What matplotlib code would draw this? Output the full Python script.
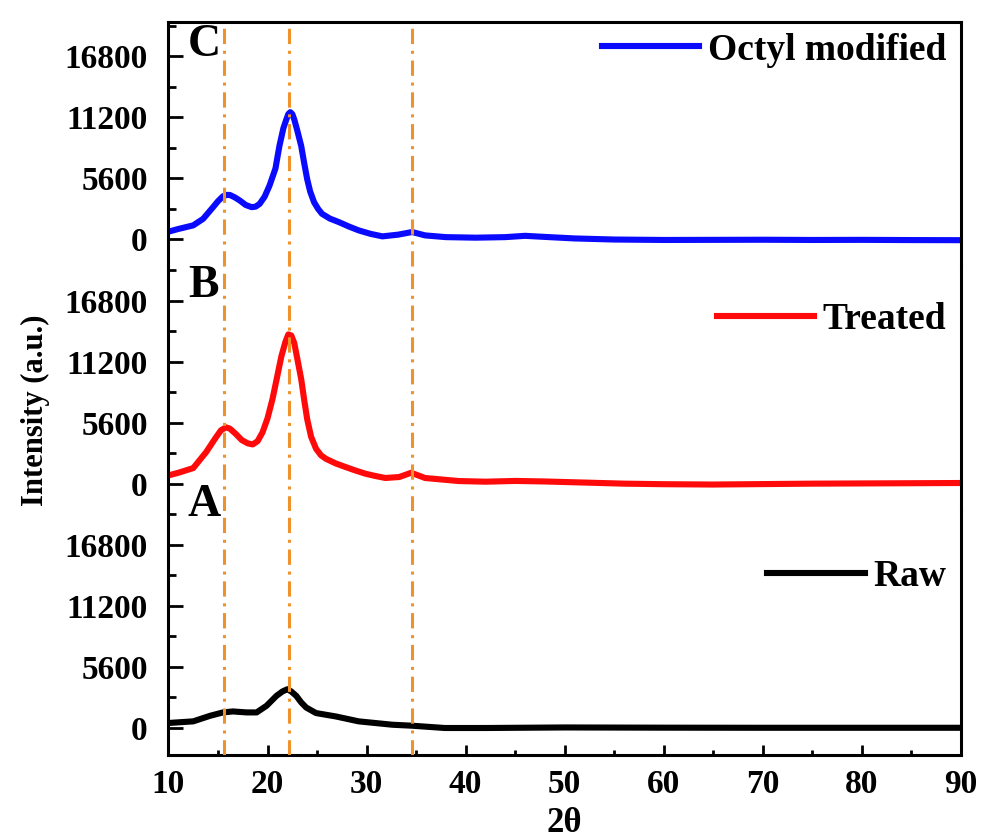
import matplotlib
matplotlib.use("Agg")
import matplotlib.pyplot as plt

# --- XRD patterns (2θ, intensity in counts) ---
octyl_x = [10, 11, 12.5, 13.5, 14.5, 15.0, 15.5, 15.9, 16.2, 16.7, 17.2, 17.8, 18.4, 18.8,
           19.2, 19.7, 20.2, 20.8, 21.2, 21.6, 21.9, 22.1, 22.3, 22.5, 22.7, 23.0, 23.4,
           23.7, 24.0, 24.3, 24.7, 25.1, 25.5, 26.3, 27.2, 28.2, 29.2, 30.4, 31.6, 33.2,
           34.6, 35.9, 38, 41, 44, 46, 48, 51, 55, 60, 65, 70, 75, 80, 85, 90]
octyl_y = [700, 950, 1280, 1880, 2950, 3500, 3950, 4080, 4070, 3850, 3560, 3150, 2950, 3000,
           3250, 3900, 4930, 6500, 8570, 10200, 11000, 11500, 11670, 11500, 11000, 10000, 8570,
           7000, 5530, 4400, 3400, 2800, 2340, 1900, 1580, 1180, 820, 500, 270, 430,
           670, 360, 200, 150, 200, 320, 220, 80, -20, -60, -50, -40, -60, -50, -70, -80]

treated_x = [10, 11, 12.5, 13.8, 14.8, 15.3, 15.8, 16.2, 16.8, 17.4, 18.0, 18.5, 19.0, 19.5,
             20.0, 20.5, 20.9, 21.4, 21.8, 22.1, 22.4, 22.7, 23.0, 23.4, 23.7, 24.0, 24.4,
             24.9, 25.4, 25.9, 26.9, 27.9, 28.9, 29.9, 30.9, 31.9, 33.3, 34.5, 35.9, 39.3,
             42, 45, 48, 52, 56, 60, 65, 70, 75, 80, 85, 90]
treated_y = [760, 1000, 1430, 2890, 4260, 4900, 5170, 5050, 4560, 4000, 3700, 3600, 3900, 4720,
             6000, 7760, 9500, 11700, 13000, 13700, 13600, 12900, 11500, 9590, 7700, 5930, 4300,
             3200, 2600, 2280, 1850, 1520, 1200, 910, 700, 520, 610, 1000, 520, 240,
             180, 250, 200, 100, 0, -50, -80, -40, 0, 20, 40, 60]

raw_x = [10, 12.5, 14.2, 15.5, 16.5, 17.9, 18.9, 19.9, 20.9, 21.5, 22.0, 22.4, 22.9, 23.4,
         23.9, 24.9, 26.9, 29.2, 32.6, 34.6, 37.9, 42, 50, 60, 70, 80, 90]
raw_y = [460, 610, 1120, 1430, 1520, 1430, 1430, 2040, 2950, 3350, 3560, 3350, 2950, 2350,
         1880, 1370, 1060, 610, 300, 210, 0, 0, 50, 30, 20, 20, 20]

series_names = ["Octyl modified", "Treated", "Raw"]
panel_labels = ["C", "B", "A"]
peak_positions = [15.6, 22.2, 34.6]

y_major = [0, 5600, 11200, 16800]
y_minor = [2800, 8400, 14000, 19600]
x_major = [10, 20, 30, 40, 50, 60, 70, 80, 90]
x_minor = [15, 25, 35, 45, 55, 65, 75, 85]

plt.rcParams["font.family"] = ["Liberation Serif", "DejaVu Serif"]
plt.rcParams["font.weight"] = "bold"

fig = plt.figure(figsize=(9.84, 8.39), dpi=100)
gs = fig.add_gridspec(3, 1, hspace=0, left=0.1712, right=0.9766,
                      bottom=0.1001, top=0.9738)
axes = [fig.add_subplot(gs[i]) for i in range(3)]

data = [(octyl_x, octyl_y, "#0a0aff"), (treated_x, treated_y, "#ff0a0a"),
        (raw_x, raw_y, "#000000")]
legend_y = [0.885, 0.781, 0.729]
letter_pos = [(188, 56), (188, 297), (188, 516)]

for i, ax in enumerate(axes):
    xs, ys, col = data[i]
    ln, = ax.plot(xs, ys, color=col, lw=4.4, solid_joinstyle="round", zorder=2)
    for p in peak_positions:
        ax.axvline(p, color="#f0922b", lw=2.2, ls=(0, (5, 2.2, 1, 2.2)), zorder=3)
    ax.set_xlim(10, 90)
    ax.set_ylim(-2480, 19950)
    ax.set_yticks(y_major)
    ax.set_yticks(y_minor, minor=True)
    ax.set_xticks(x_major)
    ax.set_xticks(x_minor, minor=True)
    ax.tick_params(axis="y", which="major", direction="in", length=11, width=2,
                   pad=15, labelsize=24)
    ax.tick_params(axis="y", which="minor", direction="in", length=5.5, width=2)
    ax.tick_params(axis="x", which="major", direction="in", length=7.5, width=2,
                   pad=10, labelsize=24)
    ax.tick_params(axis="x", which="minor", direction="in", length=3.5, width=2)
    for s in ax.spines.values():
        s.set_linewidth(2.2)
    if i != 0:
        ax.spines["top"].set_visible(False)
    if i != 2:
        ax.spines["bottom"].set_visible(False)
        ax.tick_params(axis="x", which="both", bottom=False, labelbottom=False)
    ax.legend([ln], [series_names[i]], loc="center right",
              bbox_to_anchor=(0.981, legend_y[i]), frameon=False,
              handlelength=2.6, handletextpad=0.22, borderpad=0, borderaxespad=0,
              prop=dict(family="Liberation Serif", weight="bold", size=27))
    lx, ly = letter_pos[i]
    fig.text(lx / 984, 1 - ly / 839, panel_labels[i], fontsize=33, weight="bold",
             ha="left", va="baseline")

fig.text(564.5 / 984, 1 - 823 / 839, "2θ", fontsize=25, weight="bold",
         ha="center", va="center")
fig.text(35 / 984, 1 - 410 / 839, "Intensity (a.u.)", fontsize=22, weight="bold",
         rotation=90, ha="center", va="center")

fig.savefig("out.png", dpi=100, facecolor="white")
